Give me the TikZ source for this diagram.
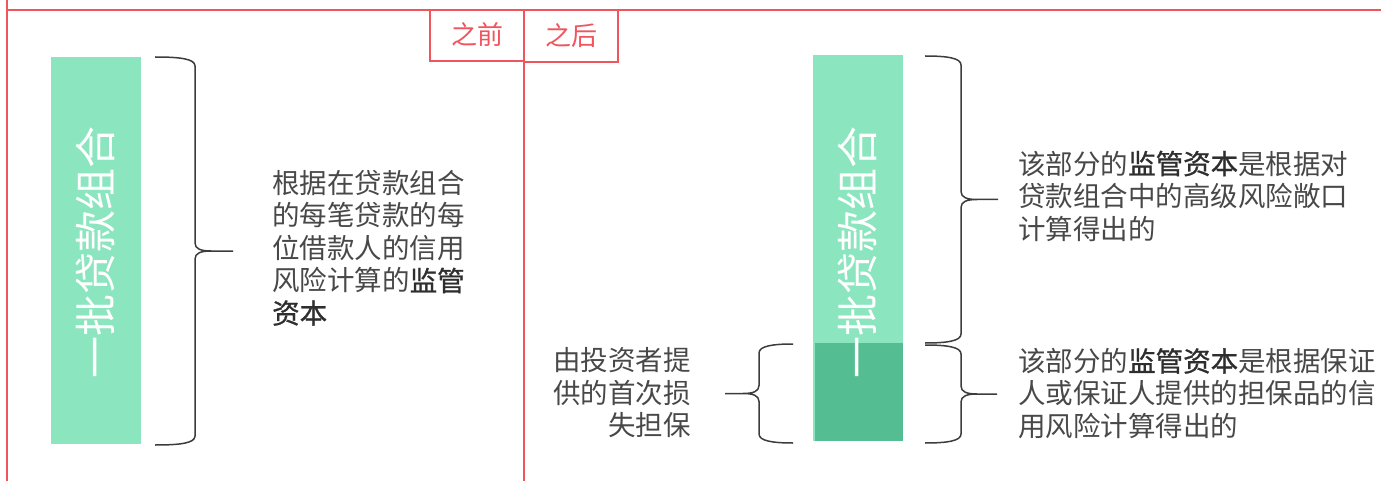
\documentclass[tikz,border=0pt]{standalone}
\usepackage{fontspec}
\newfontfamily\cjk{Noto Sans CJK SC}[BoldFont={Noto Sans CJK SC}, BoldFeatures={FakeBold=1.0}]
\definecolor{lred}{HTML}{F0545C}
\definecolor{lgreen}{HTML}{8BE5BF}
\definecolor{dgreen}{HTML}{54BD91}
\definecolor{txtgray}{HTML}{484848}
\definecolor{boldgray}{HTML}{2E2E2E}
\definecolor{bracegray}{HTML}{3C3C3C}
\newcommand\mybrace[6]{%
  \pgfmathsetmacro\bym{(#4+#5)/2}%
  \draw[bracestyle] (#1,#4) .. controls ({#2-(#6)*14},#4) and (#2,{#4+2}) .. (#2,{#4+9})
    -- (#2,{\bym-8}) .. controls (#2,{\bym-2}) and ({#2+(#6)*6},\bym) .. ({#2+(#6)*16},\bym)
    -- (#3,\bym)
    ({#2+(#6)*16},\bym) .. controls ({#2+(#6)*6},\bym) and (#2,{\bym+2}) .. (#2,{\bym+8})
    -- (#2,{#5-9}) .. controls (#2,{#5-2}) and ({#2-(#6)*14},#5) .. (#1,#5);%
}
\newcommand\hb[1]{\textcolor{boldgray}{\textbf{#1}}}
\begin{document}
\begin{tikzpicture}[x=1pt,y=-1pt]
\tikzset{
  frameline/.style={draw=lred, line width=2.2},
  lbl/.style={font=\cjk\fontsize{26}{30}\selectfont, text=lred, inner sep=0},
  bartext/.style={font=\cjk\fontsize{42}{46}\selectfont, text=white, rotate=90, inner sep=0},
  body/.style={font=\cjk\fontsize{27.5}{32.5}\selectfont, text=txtgray, inner sep=0},
  bracestyle/.style={draw=bracegray, line width=1.5, line join=round}
}
\useasboundingbox (0,0) rectangle (1381,481);
% frame
\draw[frameline] (7,0) -- (7,481);
\draw[frameline] (7,10) -- (1381,10);
\draw[frameline] (524,10) -- (524,481);
\draw[frameline] (430,10) rectangle (524,61);
\draw[frameline] (524,10) rectangle (618,62);
\node[lbl] (before) at (477,35) {之前};
\node[lbl] (after) at (571,36) {之后};
% left bar
\fill[lgreen] (51,57) rectangle (141,444);
\node[bartext] (barL) at (96,252) {一批贷款组合};
\mybrace{155}{195}{233}{57}{445}{1}
\node[body, anchor=west, align=left] (textL) at (272,248) {根据在贷款组合\\的每笔贷款的每\\位借款人的信用\\风险计算的\hb{监管}\\\hb{资本}};
% right bar
\fill[lgreen] (813,55) rectangle (903,441);
\fill[dgreen] (815,343) rectangle (903,441);
\node[bartext] (barR) at (858,252) {一批贷款组合};
\mybrace{925}{961}{998}{56}{343}{1}
\mybrace{925}{961}{997}{345}{443}{1}
\mybrace{793}{759}{725}{344}{443}{-1}
\node[body, anchor=west, align=left] (textRU) at (1018,196) {该部分的\hb{监管资本}是根据对\\贷款组合中的高级风险敞口\\计算得出的};
\node[body, anchor=west, align=left] (textRL) at (1018,393.5) {该部分的\hb{监管资本}是根据保证\\人或保证人提供的担保品的信\\用风险计算得出的};
\node[body, anchor=east, align=right] (textG) at (691,393) {由投资者提\\供的首次损\\失担保};
\end{tikzpicture}
\end{document}
